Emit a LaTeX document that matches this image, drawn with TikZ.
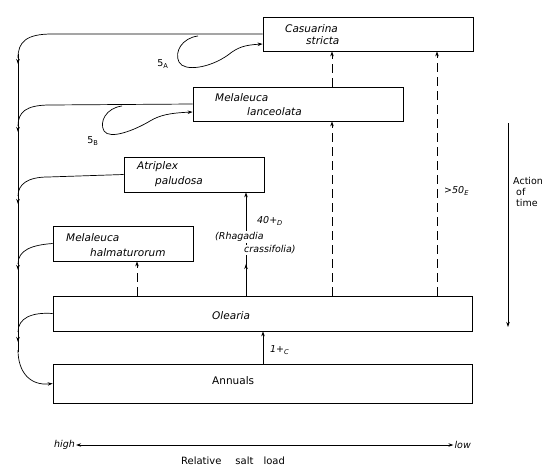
\documentclass[tikz,border=0pt]{standalone}
\usepackage{fontspec}
\setmainfont{DejaVu Sans}
\usetikzlibrary{arrows.meta,positioning}
\tikzset{
  plant/.style={
    draw,
    line width=0.8pt,
    inner sep=0pt
  },
  spname/.style={
    anchor=west,
    font=\itshape\fontsize{10.5}{13}\selectfont,
    inner sep=0pt
  },
  lbl/.style={
    font=\itshape\fontsize{9.5}{11}\selectfont,
    inner sep=1pt
  },
  flow/.style={
    line width=0.7pt,
    -{Stealth[length=5pt,width=3.5pt]}
  },
  succ/.style={
    flow,
    dash pattern=on 9pt off 5pt
  },
}

\begin{document}
\begin{tikzpicture}[x=1pt,y=-1pt]
    \def\rx{18}
    \useasboundingbox (0,0) rectangle (555,469);
    % boxes
    \node[plant, minimum width=210pt, minimum height=34pt] (cas) at (368,34) {};
    \node[plant, minimum width=210pt, minimum height=34pt] (lan) at (298,104) {};
    \node[plant, minimum width=140pt, minimum height=35pt] (atr) at (194,174.5) {};
    \node[plant, minimum width=140pt, minimum height=35pt] (hal) at (123,243.5) {};
    \node[plant, minimum width=419pt, minimum height=35pt] (ole) at (262.5,313.5) {};
    \node[plant, minimum width=419pt, minimum height=39pt] (ann) at (262.5,383.5) {};
    % names
    \node[spname] (casA) at (285,29) {Casuarina};
    \node[spname] (casB) at (306,41) {stricta};
    \node[spname] (lanA) at (215,98) {Melaleuca};
    \node[spname] (lanB) at (247,112) {lanceolata};
    \node[spname] (atrA) at (137,167) {Atriplex};
    \node[spname] (atrB) at (155,182) {paludosa};
    \node[spname] (halA) at (66,238) {Melaleuca};
    \node[spname] (halB) at (90,253) {halmaturorum};
    \node[spname] (oleA) at (212,316) {Olearia};
    \node[spname, font=\fontsize{10.5}{13}\selectfont] (annA) at (212,381) {Annuals};
    % rail on the left
    \draw[line width=0.7pt] (cas.west) -- (52,34) .. controls (26,34) and (\rx,42) .. (\rx,58);
    \draw[line width=0.7pt] (lan.west) -- (50,105) .. controls (26,105) and (\rx,112) .. (\rx,126);
    \draw[line width=0.7pt] (atr.west) -- (48,177) .. controls (28,177) and (\rx,184) .. (\rx,196);
    \draw[line width=0.7pt] (hal.west) .. controls (32,245) and (\rx,250) .. (\rx,264);
    \draw[line width=0.7pt] (ole.west) .. controls (32,312) and (\rx,318) .. (\rx,332);
    \draw[line width=0.7pt] (\rx,56) -- (\rx,352);
    \draw[flow] (\rx,350) .. controls (\rx,372) and (30,386) .. (ann.west);
    \foreach \y in {64,132,204,270,342}{
        \draw[flow] (\rx,\y-10) -- (\rx,\y);
    }
    % loops
    \draw[flow] (198,36) .. controls (182,38) and (174,52) .. (179,62) .. controls (184,72) and (210,68) .. (228,55) .. controls (238,47) and (245,45) .. ([yshift=-10pt]cas.west);
    \draw[flow] (122,106) .. controls (106,108) and (99,122) .. (104,131) .. controls (110,140) and (135,130) .. (150,121) .. controls (160,115) and (170,113) .. ([yshift=-8pt]lan.west);
    \node[lbl, font=\fontsize{9.5}{11}\selectfont] (sA) at (163,64) {5\textsubscript{A}};
    \node[lbl, font=\fontsize{9.5}{11}\selectfont] (sB) at (93,141) {5\textsubscript{B}};
    % vertical links
    \coordinate (xh) at (137,0);
    \coordinate (xr) at (246,0);
    \coordinate (xc) at (263,0);
    \coordinate (xm) at (332,0);
    \coordinate (xe) at (437,0);
    \coordinate (rmid) at (246,264);
    \draw[succ] (ole.north -| xh) -- (hal.south -| xh);
    \draw[flow] (ole.north -| xr) -- (atr.south -| xr);
    \draw[flow] (ole.north -| xr) -- (rmid);
    \draw[succ] (ole.north -| xm) -- (lan.south -| xm);
    \draw[succ] (lan.north -| xm) -- (cas.south -| xm);
    \draw[succ] (ole.north -| xe) -- (cas.south -| xe);
    \draw[flow] (ann.north -| xc) -- (ole.south -| xc);
    % labels
    \node[lbl, anchor=west] (tD) at (256,221) {40+\textsubscript{D}};
    \node[lbl, anchor=west, fill=white] (rhA) at (214,237) {(Rhagadia};
    \node[lbl, anchor=west, fill=white] (rhB) at (243,250) {crassifolia)};
    \node[lbl, anchor=west] (tE) at (443,191) {>50\textsubscript{E}};
    \node[lbl, anchor=west] (tC) at (269,350) {1+\textsubscript{C}};
    % time
    \draw[flow] (508,123) -- (508,327);
    \node[lbl, font=\fontsize{9.5}{12}\selectfont, anchor=north west, align=left] (time) at (512,176) {Action\\[-1pt]\hspace{3pt}of\\[-1pt]\hspace{3pt}time};
    % salt load
    \node[lbl, anchor=west] (hi) at (53,445) {high};
    \node[lbl, anchor=east] (lo) at (472,445) {low};
    \draw[line width=0.7pt, {Stealth[length=5pt,width=3.5pt]}-{Stealth[length=5pt,width=3.5pt]}] (hi) -- (lo);
    \node[lbl, font=\fontsize{10}{12}\selectfont] (salt) at (233,461) {Relative\hspace{14pt}salt\hspace{10pt}load};
\end{tikzpicture}
\end{document}
